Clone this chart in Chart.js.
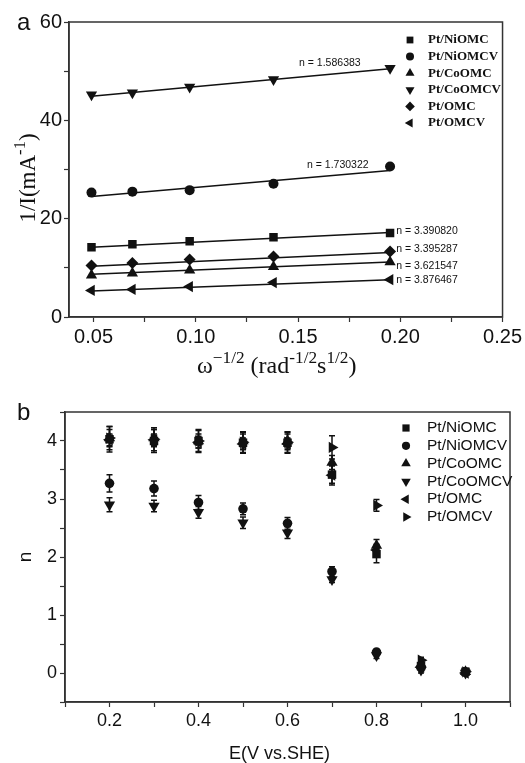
<!DOCTYPE html>
<html>
<head>
<meta charset="UTF-8">
<title>RDE n values</title>
<script src="https://cdn.jsdelivr.net/npm/chart.js"></script>
<style>
  body { margin: 0; background: #fff; }
  #wrap { position: relative; width: 525px; height: 763px; overflow: hidden; }
  canvas { position: absolute; left: 0; }
  .lbl { position: absolute; color: #111; white-space: nowrap; }
  .serif { font-family: 'Liberation Serif', 'Times New Roman', serif; }
  .sans { font-family: 'Liberation Sans', Arial, sans-serif; }
  sup { font-size: 72%; vertical-align: 0.6em; line-height: 0; }
</style>
</head>
<body>
<div id="wrap">
  <canvas id="chartA" width="525" height="380" style="top:0"></canvas>
  <canvas id="chartB" width="525" height="383" style="top:380px"></canvas>

  <div class="lbl sans" style="left:17px;top:8px;font-size:24px;">a</div>
  <div class="lbl serif" style="left:28px;top:178px;font-size:23px;transform:translate(-50%,-50%) rotate(-90deg);">1/I(mA<sup>-1</sup>)</div>
  <div class="lbl serif" style="left:197px;top:352px;font-size:24px;">ω<sup>−1/2</sup> (rad<sup>-1/2</sup>s<sup>1/2</sup>)</div>

  <div class="lbl sans" style="left:17px;top:398px;font-size:24px;">b</div>
  <div class="lbl sans" style="left:25px;top:557px;font-size:19px;transform:translate(-50%,-50%) rotate(-90deg);">n</div>
  <div class="lbl sans" style="left:229px;top:743px;font-size:18px;">E(V vs.SHE)</div>
</div>

<script>
  // ---- panel a: Koutecky-Levich plots ----
  const seriesNames = ['Pt/NiOMC', 'Pt/NiOMCV', 'Pt/CoOMC', 'Pt/CoOMCV', 'Pt/OMC', 'Pt/OMCV'];
  const omegaInvSqrt = [0.049, 0.069, 0.097, 0.138, 0.195];

  const klNiOMC  = [14.2, 14.8, 15.4, 16.2, 17.1];
  const klNiOMCV = [25.3, 25.5, 25.8, 27.1, 30.6];
  const klCoOMC  = [8.5, 8.9, 9.5, 10.2, 11.2];
  const klCoOMCV = [45.2, 45.6, 46.8, 48.3, 50.6];
  const klOMC    = [10.5, 11.0, 11.7, 12.3, 13.3];
  const klOMCV   = [5.4, 5.6, 6.2, 7.0, 7.6];

  // fitted lines, values at the first and last x
  const fitStart = [14.2, 24.5, 8.7, 44.9, 10.3, 5.3];
  const fitEnd   = [17.2, 29.8, 11.2, 50.5, 13.1, 7.6];
  const electronNumbers = ['3.390820', '1.730322', '3.621547', '1.586383', '3.395287', '3.876467'];

  // ---- panel b: n versus potential ----
  const potential = [0.2, 0.3, 0.4, 0.5, 0.6, 0.7, 0.8, 0.9, 1.0];
  const nNiOMC  = [4.03, 4.00, 4.00, 3.97, 3.97, 3.42, 2.05, 0.12, 0.02];
  const nNiOMCV = [3.27, 3.18, 2.94, 2.83, 2.58, 1.75, 0.36, 0.10, 0.02];
  const nCoOMC  = [4.05, 4.05, 4.00, 4.00, 4.00, 3.63, 2.20, 0.15, 0.02];
  const nCoOMCV = [2.90, 2.88, 2.77, 2.59, 2.42, 1.61, 0.30, 0.05, 0.00];
  const nOMC    = [4.02, 4.02, 3.98, 3.95, 3.95, 3.41, 2.12, 0.10, 0.00];
  const nOMCV   = [4.05, 4.03, 4.00, 3.98, 3.98, 3.89, 2.89, 0.22, 0.02];

  const errNiOMC  = [0.22, 0.20, 0.18, 0.18, 0.18, 0.15, 0.15, 0.05, 0.03];
  const errNiOMCV = [0.15, 0.13, 0.12, 0.10, 0.10, 0.08, 0.05, 0.05, 0.03];
  const errCoOMC  = [0.15, 0.15, 0.12, 0.12, 0.12, 0.12, 0.10, 0.05, 0.03];
  const errCoOMCV = [0.12, 0.10, 0.10, 0.10, 0.10, 0.05, 0.05, 0.05, 0.03];
  const errOMC    = [0.10, 0.10, 0.10, 0.10, 0.10, 0.17, 0.10, 0.05, 0.03];
  const errOMCV   = [0.20, 0.20, 0.20, 0.18, 0.18, 0.20, 0.10, 0.05, 0.03];

  const INK = '#111';
  const AXIS = '#333';
  Chart.defaults.font.family = "'Liberation Sans', Arial, sans-serif";
  Chart.defaults.color = INK;

  const stylesA = [
    { pointStyle: 'rect', rotation: 0, radius: 6 },
    { pointStyle: 'circle', rotation: 0, radius: 5 },
    { pointStyle: 'triangle', rotation: 0, radius: 6.5 },
    { pointStyle: 'triangle', rotation: 180, radius: 6.5 },
    { pointStyle: 'rectRot', rotation: 0, radius: 6 },
    { pointStyle: 'triangle', rotation: 270, radius: 6.5 }
  ];
  const stylesB = [
    { pointStyle: 'rect', rotation: 0, radius: 6 },
    { pointStyle: 'circle', rotation: 0, radius: 4.8 },
    { pointStyle: 'triangle', rotation: 0, radius: 6.5 },
    { pointStyle: 'triangle', rotation: 180, radius: 6.5 },
    { pointStyle: 'triangle', rotation: 270, radius: 6.5 },
    { pointStyle: 'triangle', rotation: 90, radius: 6.5 }
  ];

  const toPoints = (xs, ys) => xs.map((x, i) => ({ x: x, y: ys[i] }));

  // full box around the plotting area
  const frame = {
    id: 'frame',
    afterDraw(chart) {
      const a = chart.chartArea, ctx = chart.ctx;
      ctx.save();
      ctx.strokeStyle = AXIS;
      ctx.lineWidth = 1.5;
      ctx.strokeRect(a.left, a.top, a.right - a.left, a.bottom - a.top);
      ctx.restore();
    }
  };

  // legend inside the plot, drawn with the same point shapes
  function markerLegend(styles, opts) {
    return {
      id: 'markerLegend',
      afterDraw(chart) {
        const ctx = chart.ctx;
        ctx.save();
        ctx.fillStyle = INK;
        ctx.strokeStyle = INK;
        ctx.font = opts.font;
        ctx.textBaseline = 'middle';
        seriesNames.forEach((name, i) => {
          const y = opts.y + i * opts.dy;
          const s = styles[i];
          Chart.helpers.drawPoint(ctx, {
            pointStyle: s.pointStyle, rotation: s.rotation,
            radius: s.radius * opts.scale, borderWidth: 0
          }, opts.x, y);
          ctx.fillText(name, opts.textX, y);
        });
        ctx.restore();
      }
    };
  }

  const axisCommon = (fontSize, pad) => ({
    type: 'linear',
    border: { display: true, color: AXIS, width: 1.5 },
    grid: { drawOnChartArea: false, drawTicks: true, tickLength: 5, tickColor: AXIS, tickWidth: 1.2 },
    ticks: { font: { size: fontSize }, color: INK, padding: pad, autoSkip: false, maxRotation: 0 }
  });

  // ---- chart a ----
  const dsA = [];
  const klSeries = [klNiOMC, klNiOMCV, klCoOMC, klCoOMCV, klOMC, klOMCV];
  klSeries.forEach((ys, i) => {
    dsA.push({
      label: seriesNames[i],
      data: toPoints(omegaInvSqrt, ys),
      pointStyle: stylesA[i].pointStyle,
      rotation: stylesA[i].rotation,
      pointRadius: stylesA[i].radius,
      pointBorderWidth: 0,
      backgroundColor: INK,
      borderColor: INK,
      showLine: false,
      order: 0
    });
  });
  seriesNames.forEach((name, i) => {
    dsA.push({
      label: name + ' fit',
      data: [{ x: omegaInvSqrt[0], y: fitStart[i] }, { x: omegaInvSqrt[4], y: fitEnd[i] }],
      showLine: true,
      pointRadius: 0,
      borderColor: INK,
      borderWidth: 1.5,
      order: 1
    });
  });

  // where each "n = ..." label starts (data units, left edge)
  const nLabelAt = [
    [0.198, 17.5], [0.1544, 30.9], [0.198, 10.4], [0.1505, 51.7], [0.198, 13.8], [0.198, 7.5]
  ];
  const nLabels = {
    id: 'nLabels',
    afterDatasetsDraw(chart) {
      const ctx = chart.ctx, sx = chart.scales.x, sy = chart.scales.y;
      ctx.save();
      ctx.fillStyle = INK;
      ctx.font = "10.5px 'Liberation Sans', Arial, sans-serif";
      ctx.textBaseline = 'middle';
      electronNumbers.forEach((n, i) => {
        ctx.fillText('n = ' + n, sx.getPixelForValue(nLabelAt[i][0]), sy.getPixelForValue(nLabelAt[i][1]));
      });
      ctx.restore();
    }
  };

  const xA = axisCommon(20, 3);
  Object.assign(xA, { min: 0.038, max: 0.25 });
  xA.ticks.stepSize = 0.025;
  xA.ticks.includeBounds = false;
  xA.ticks.callback = v => Math.abs(v * 20 - Math.round(v * 20)) < 1e-6 ? v.toFixed(2) : '';
  xA.afterFit = s => { s.height = 63; };

  const yA = axisCommon(20, 2);
  Object.assign(yA, { min: 0, max: 60 });
  yA.ticks.stepSize = 10;
  yA.ticks.callback = v => v % 20 === 0 ? String(v) : '';
  yA.afterFit = s => { s.width = 69; };

  new Chart(document.getElementById('chartA'), {
    type: 'scatter',
    data: { datasets: dsA },
    options: {
      responsive: false,
      animation: false,
      layout: { padding: { top: 22, right: 22, left: 0, bottom: 0 } },
      plugins: { legend: { display: false }, tooltip: { enabled: false } },
      scales: { x: xA, y: yA }
    },
    plugins: [frame, nLabels, markerLegend(stylesA, {
      x: 410, textX: 428, y: 40, dy: 16.6, scale: 0.8,
      font: "bold 13px 'Liberation Serif', 'Times New Roman', serif"
    })]
  });

  // ---- chart b ----
  const nSeries = [nNiOMC, nNiOMCV, nCoOMC, nCoOMCV, nOMC, nOMCV];
  const errSeries = [errNiOMC, errNiOMCV, errCoOMC, errCoOMCV, errOMC, errOMCV];
  const dsB = nSeries.map((ys, i) => ({
    label: seriesNames[i],
    data: toPoints(potential, ys),
    errors: errSeries[i],
    pointStyle: stylesB[i].pointStyle,
    rotation: stylesB[i].rotation,
    pointRadius: stylesB[i].radius,
    pointBorderWidth: 0,
    backgroundColor: INK,
    borderColor: INK,
    showLine: false
  }));

  const errorBars = {
    id: 'errorBars',
    beforeDatasetsDraw(chart) {
      const ctx = chart.ctx, sy = chart.scales.y;
      ctx.save();
      ctx.strokeStyle = INK;
      ctx.lineWidth = 1.5;
      chart.data.datasets.forEach((ds, di) => {
        const meta = chart.getDatasetMeta(di);
        meta.data.forEach((pt, j) => {
          const v = ds.data[j].y, e = ds.errors[j];
          const top = sy.getPixelForValue(v + e), bot = sy.getPixelForValue(v - e);
          ctx.beginPath();
          ctx.moveTo(pt.x, top); ctx.lineTo(pt.x, bot);
          ctx.moveTo(pt.x - 3, top); ctx.lineTo(pt.x + 3, top);
          ctx.moveTo(pt.x - 3, bot); ctx.lineTo(pt.x + 3, bot);
          ctx.stroke();
        });
      });
      ctx.restore();
    }
  };

  const xB = axisCommon(18, 3);
  Object.assign(xB, { min: 0.1, max: 1.1 });
  xB.ticks.stepSize = 0.1;
  xB.ticks.callback = v => Math.abs(v * 5 - Math.round(v * 5)) < 1e-6 ? v.toFixed(1) : '';
  xB.afterFit = s => { s.height = 61; };

  const yB = axisCommon(18, 3);
  Object.assign(yB, { min: -0.5, max: 4.5 });
  yB.ticks.stepSize = 0.5;
  yB.ticks.callback = v => Number.isInteger(v) ? String(v) : '';
  yB.afterFit = s => { s.width = 65; };

  new Chart(document.getElementById('chartB'), {
    type: 'scatter',
    data: { datasets: dsB },
    options: {
      responsive: false,
      animation: false,
      layout: { padding: { top: 32, right: 15, left: 0, bottom: 0 } },
      plugins: { legend: { display: false }, tooltip: { enabled: false } },
      scales: { x: xB, y: yB }
    },
    plugins: [frame, errorBars, markerLegend(stylesB, {
      x: 406, textX: 427, y: 48, dy: 17.8, scale: 0.85,
      font: "15.5px 'Liberation Sans', Arial, sans-serif"
    })]
  });
</script>
</body>
</html>
